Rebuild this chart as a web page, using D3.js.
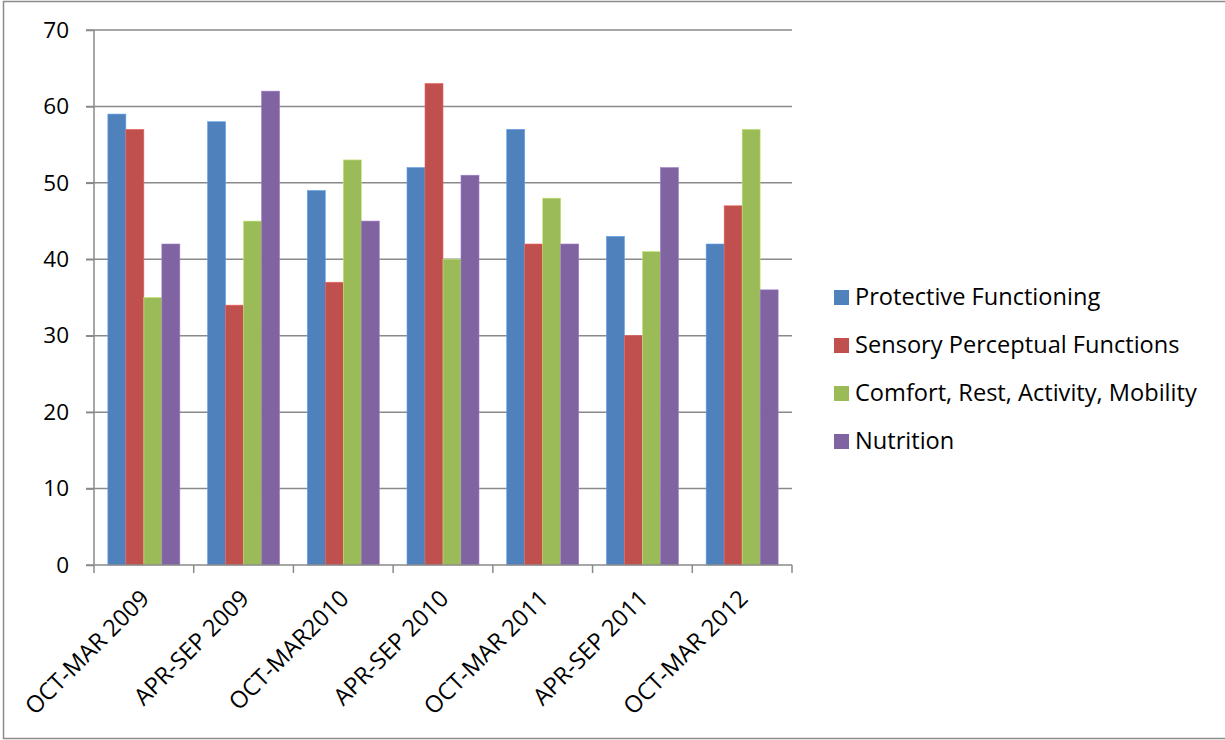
<!DOCTYPE html>
<html>
<head>
<meta charset="utf-8">
<script src="https://cdn.jsdelivr.net/npm/d3@7"></script>
<style>
  html, body { margin: 0; padding: 0; background: #fff; }
  svg { display: block; font-family: "Open Sans", Lato, sans-serif; }
</style>
</head>
<body>
<svg id="chart" width="1225" height="740"></svg>
<script>
// Reporting periods along the x axis
const categories = ["OCT-MAR 2009", "APR-SEP 2009", "OCT-MAR2010", "APR-SEP 2010",
                    "OCT-MAR 2011", "APR-SEP 2011", "OCT-MAR 2012"];

// Series names and their values per period
const seriesNames = ["Protective Functioning", "Sensory Perceptual Functions",
                     "Comfort, Rest, Activity, Mobility", "Nutrition"];
const protective = [59, 58, 49, 52, 57, 43, 42];
const sensory    = [57, 34, 37, 63, 42, 30, 47];
const comfort    = [35, 45, 53, 40, 48, 41, 57];
const nutrition  = [42, 62, 45, 51, 42, 52, 36];
const yTicks = [0, 10, 20, 30, 40, 50, 60, 70];

const seriesValues = [protective, sensory, comfort, nutrition];
const colors = ["#4F81BD", "#C0504D", "#9BBB59", "#8064A2"];

const svg = d3.select("#chart");
const plot = { left: 94, right: 792, top: 30, bottom: 565 };

// Outer chart border
svg.append("path")
  .attr("d", "M1226,1.5 H3.5 V738.5 H1226")
  .attr("fill", "none")
  .attr("stroke", "#8c8c8c")
  .attr("stroke-width", 1.5);

const x0 = d3.scaleBand().domain(categories).range([plot.left, plot.right]).padding(0);
const x1 = d3.scaleBand().domain(seriesNames).range([0, x0.bandwidth()])
  .paddingInner(0).paddingOuter(0.77);
const y = d3.scaleLinear().domain([0, 70]).range([plot.bottom, plot.top]);

// Horizontal gridlines
svg.append("g")
  .selectAll("line")
  .data(yTicks.filter(d => d > 0))
  .join("line")
  .attr("x1", plot.left - 8).attr("x2", plot.right)
  .attr("y1", d => y(d)).attr("y2", d => y(d))
  .attr("stroke", "#8a8a8a").attr("stroke-width", 1.5);

// Bars
const groups = svg.append("g")
  .selectAll("g")
  .data(categories)
  .join("g")
  .attr("transform", d => `translate(${x0(d)},0)`);

groups.selectAll("rect")
  .data((c, i) => seriesNames.map((s, j) => ({ s, j, v: seriesValues[j][i] })))
  .join("rect")
  .attr("x", d => x1(d.s))
  .attr("width", x1.bandwidth())
  .attr("y", d => y(d.v))
  .attr("height", d => y(0) - y(d.v))
  .attr("fill", d => colors[d.j])
  .attr("stroke", d => d3.color(colors[d.j]).brighter(0.6))
  .attr("stroke-width", 0.6);

// Y axis
const yAxis = svg.append("g")
  .attr("transform", `translate(${plot.left},0)`)
  .call(d3.axisLeft(y).tickValues(yTicks).tickSize(8).tickPadding(17));
yAxis.select(".domain").attr("stroke", "#8a8a8a").attr("stroke-width", 1.5)
  .attr("d", `M0,${plot.bottom}V${plot.top}`);
yAxis.selectAll(".tick line").attr("stroke", "#8a8a8a").attr("stroke-width", 1.5);
yAxis.selectAll(".tick text")
  .attr("font-size", 22.5).attr("fill", "#000").attr("font-family", "Open Sans");

// X axis baseline with tick marks at band boundaries
const xAxisG = svg.append("g");
xAxisG.append("line")
  .attr("x1", plot.left - 8).attr("x2", plot.right)
  .attr("y1", plot.bottom).attr("y2", plot.bottom)
  .attr("stroke", "#8a8a8a").attr("stroke-width", 1.5);
const boundaries = categories.map(c => x0(c)).concat([x0(categories[categories.length - 1]) + x0.bandwidth()]);
xAxisG.selectAll("line.tk")
  .data(boundaries)
  .join("line")
  .attr("class", "tk")
  .attr("x1", d => d).attr("x2", d => d)
  .attr("y1", plot.bottom).attr("y2", plot.bottom + 8)
  .attr("stroke", "#8a8a8a").attr("stroke-width", 1.5);

// Rotated category labels
xAxisG.selectAll("text")
  .data(categories)
  .join("text")
  .attr("transform", d => `translate(${x0(d) + x0.bandwidth() / 2 + 7},${plot.bottom + 35}) rotate(-45)`)
  .attr("text-anchor", "end")
  .attr("font-size", 23.5)
  .attr("fill", "#000")
  .text(d => d);

// Legend
const legend = svg.append("g").attr("transform", "translate(834,290)");
const item = legend.selectAll("g")
  .data(seriesNames)
  .join("g")
  .attr("transform", (d, i) => `translate(0,${i * 48})`);
item.append("rect")
  .attr("width", 15).attr("height", 15)
  .attr("fill", (d, i) => colors[i]);
item.append("text")
  .attr("x", 21).attr("y", 15)
  .attr("font-size", 23.6)
  .attr("fill", "#000")
  .text(d => d);
</script>
</body>
</html>
